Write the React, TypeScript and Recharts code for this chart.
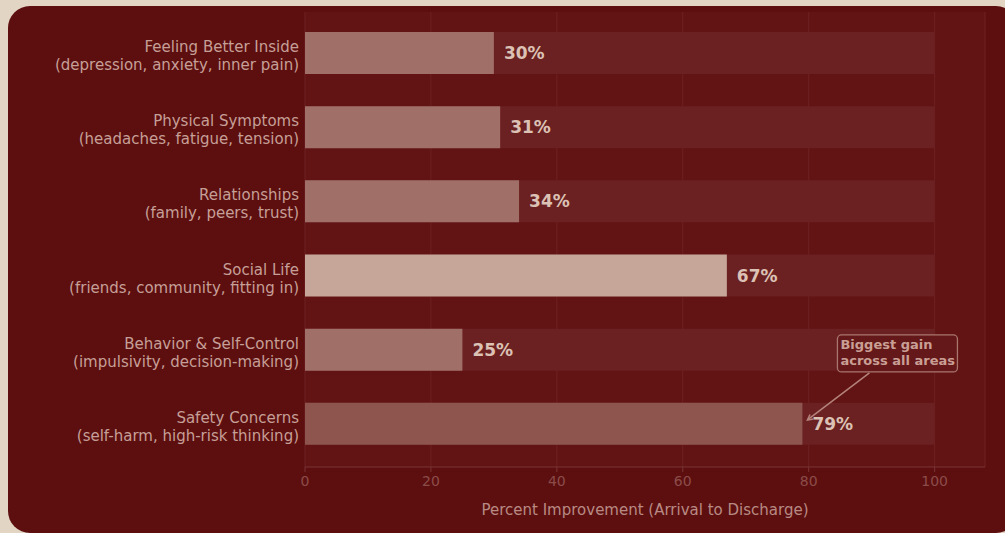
import React from 'react';
import {
  BarChart,
  Bar,
  XAxis,
  YAxis,
  CartesianGrid,
  Cell,
  LabelList,
  ReferenceDot,
} from 'recharts';

const CATEGORIES = [
  'Feeling Better Inside',
  'Physical Symptoms',
  'Relationships',
  'Social Life',
  'Behavior & Self-Control',
  'Safety Concerns',
];
const SUBTITLES = [
  '(depression, anxiety, inner pain)',
  '(headaches, fatigue, tension)',
  '(family, peers, trust)',
  '(friends, community, fitting in)',
  '(impulsivity, decision-making)',
  '(self-harm, high-risk thinking)',
];
const IMPROVEMENT = [30, 31, 34, 67, 25, 79];
const TRACK_MAX = 100;
const X_TICKS = [0, 20, 40, 60, 80, 100];
const X_DOMAIN_MAX = 108;
const ANNOTATION_LINES = ['Biggest gain', 'across all areas'];
const ANNOTATION_TARGET = { x: 79.8, y: 'Safety Concerns' };
const X_TITLE = 'Percent Improvement (Arrival to Discharge)';

const BAR_COLORS = ['#a06f67', '#a06f67', '#a06f67', '#c6a698', '#a06f67', '#8e554f'];
const FONT = '"DejaVu Sans", sans-serif';

const data = CATEGORIES.map((name, i) => ({
  name,
  sub: SUBTITLES[i],
  value: IMPROVEMENT[i],
  track: TRACK_MAX,
}));

const YTick = (props: any) => {
  const { x, y, payload } = props;
  const idx = CATEGORIES.indexOf(payload.value);
  return (
    <g>
      <text x={x} y={y - 1} textAnchor="end" fontFamily={FONT} fontSize={15} fill="#c69f97">
        {payload.value}
      </text>
      <text x={x} y={y + 17} textAnchor="end" fontFamily={FONT} fontSize={15} fill="#c69f97">
        {SUBTITLES[idx]}
      </text>
    </g>
  );
};

const ValueLabel = (props: any) => {
  const { x, y, width, height, value } = props;
  return (
    <text
      x={x + width + 10}
      y={y + height / 2 + 6}
      fontFamily={FONT}
      fontSize={17}
      fontWeight="bold"
      fill="#dcc1b5"
    >
      {value}%
    </text>
  );
};

const AnnotationShape = (props: any) => {
  const { cx, cy } = props;
  const tipX = cx;
  const tipY = cy - 4;
  const sx = cx + 62;
  const sy = cy - 51;
  const dx = tipX - sx;
  const dy = tipY - sy;
  const len = Math.sqrt(dx * dx + dy * dy);
  const ux = dx / len;
  const uy = dy / len;
  const hl = 6;
  const ang = (28 * Math.PI) / 180;
  const h1x = tipX - hl * (ux * Math.cos(ang) - uy * Math.sin(ang));
  const h1y = tipY - hl * (uy * Math.cos(ang) + ux * Math.sin(ang));
  const h2x = tipX - hl * (ux * Math.cos(-ang) - uy * Math.sin(-ang));
  const h2y = tipY - hl * (uy * Math.cos(-ang) + ux * Math.sin(-ang));
  const bx = cx + 30;
  const by = cy - 89;
  return (
    <g>
      <line x1={sx} y1={sy} x2={tipX} y2={tipY} stroke="#b4837b" strokeWidth={1.5} />
      <polyline
        points={`${h1x},${h1y} ${tipX},${tipY} ${h2x},${h2y}`}
        fill="none"
        stroke="#b4837b"
        strokeWidth={1.5}
      />
      <rect
        x={bx}
        y={by}
        width={120}
        height={37}
        rx={4}
        ry={4}
        fill="#651819"
        stroke="#a9766f"
        strokeWidth={1.3}
      />
      {ANNOTATION_LINES.map((t, i) => (
        <text
          key={t}
          x={bx + 3}
          y={by + 14.5 + i * 16}
          fontFamily={FONT}
          fontSize={13}
          fontWeight="bold"
          fill="#c99f95"
        >
          {t}
        </text>
      ))}
    </g>
  );
};

export default function App() {
  return (
    <div
      style={{
        position: 'absolute',
        left: 0,
        top: 0,
        width: 1005,
        height: 533,
        background: '#e3d5c3',
        overflow: 'hidden',
      }}
    >
      <div
        style={{
          position: 'absolute',
          left: 8,
          top: 6,
          width: 1010,
          height: 527,
          borderRadius: 22,
          background: '#5d0f10',
        }}
      />
      <div style={{ position: 'absolute', left: 0, top: 0 }}>
        <BarChart
          width={1005}
          height={533}
          data={data}
          layout="vertical"
          margin={{ top: 12, right: 20, bottom: 0, left: 5 }}
          barGap={-42}
        >
          <CartesianGrid
            horizontal={false}
            vertical={true}
            fill="#621314"
            stroke="#6e2222"
            strokeWidth={1}
          />
          <XAxis
            type="number"
            domain={[0, X_DOMAIN_MAX]}
            ticks={X_TICKS}
            height={66}
            tickSize={5}
            tickMargin={4}
            axisLine={{ stroke: '#7a3434', strokeWidth: 1 }}
            tickLine={{ stroke: '#7a3434' }}
            tick={{ fill: '#8b4c49', fontSize: 14, fontFamily: FONT }}
            label={{
              value: X_TITLE,
              position: 'insideBottom',
              offset: 18,
              fill: '#b88a83',
              fontSize: 15,
              fontFamily: FONT,
            }}
          />
          <YAxis
            type="category"
            dataKey="name"
            width={300}
            tickSize={0}
            tickMargin={6}
            axisLine={false}
            tickLine={false}
            padding={{ top: 4, bottom: 6 }}
            tick={<YTick />}
            interval={0}
          />
          <Bar dataKey="track" barSize={42} fill="#6b2121" isAnimationActive={false} />
          <Bar dataKey="value" barSize={42} isAnimationActive={false}>
            {data.map((d, i) => (
              <Cell key={d.name} fill={BAR_COLORS[i]} />
            ))}
            <LabelList dataKey="value" content={<ValueLabel />} />
          </Bar>
          <ReferenceDot
            x={ANNOTATION_TARGET.x}
            y={ANNOTATION_TARGET.y}
            r={0}
            shape={<AnnotationShape />}
            ifOverflow="visible"
          />
        </BarChart>
      </div>
    </div>
  );
}
